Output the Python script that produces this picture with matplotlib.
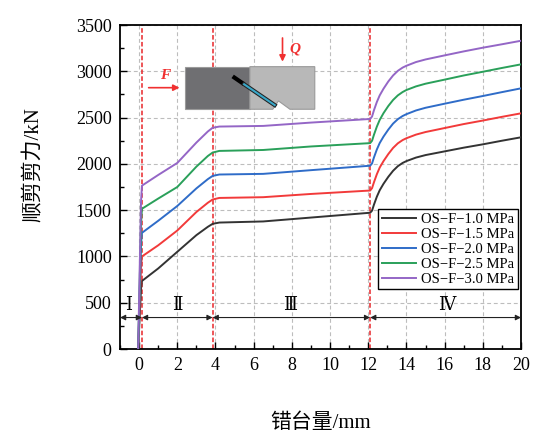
import matplotlib
matplotlib.use('Agg')
from matplotlib import pyplot as plt
from matplotlib.patches import Rectangle, Polygon
from matplotlib.ticker import MultipleLocator

plt.rcParams['font.family'] = ['Liberation Serif', 'DejaVu Serif', 'Noto Sans CJK SC']
plt.rcParams['axes.unicode_minus'] = False

# shared x positions (mm) for every curve
x_mm = [-0.05, 0.1, 0.15, 1, 2, 3, 3.6, 3.85, 4.2, 6.5, 9, 12.1,
        12.2, 12.3, 12.45, 12.6, 12.8, 13.05, 13.3, 13.55, 13.8, 14.0,
        14.5, 15, 16, 17, 18, 19, 20]

f_10 = [0, 650, 735, 870, 1050, 1230, 1320, 1352, 1366, 1378, 1420, 1472,
        1495, 1560, 1645, 1715, 1785, 1860, 1925, 1975, 2010, 2030,
        2068, 2095, 2135, 2175, 2211, 2250, 2287]
f_15 = [0, 900, 1000, 1120, 1280, 1480, 1580, 1615, 1632, 1640, 1675, 1712,
        1738, 1802, 1888, 1960, 2030, 2106, 2172, 2222, 2257, 2277,
        2316, 2344, 2387, 2430, 2468, 2508, 2546]
f_20 = [0, 1130, 1255, 1385, 1545, 1735, 1835, 1870, 1885, 1892, 1932, 1980,
        2005, 2070, 2155, 2225, 2295, 2370, 2435, 2483, 2517, 2537,
        2577, 2606, 2650, 2693, 2733, 2775, 2816]
f_25 = [0, 1360, 1515, 1625, 1750, 1970, 2085, 2122, 2140, 2150, 2188, 2224,
        2250, 2315, 2402, 2475, 2548, 2625, 2690, 2740, 2776, 2798,
        2837, 2866, 2910, 2955, 2995, 3036, 3075]
f_30 = [0, 1590, 1765, 1880, 2010, 2230, 2350, 2390, 2403, 2410, 2446, 2485,
        2512, 2580, 2668, 2740, 2812, 2890, 2955, 3005, 3040, 3060,
        3100, 3128, 3172, 3215, 3255, 3292, 3330]

labels = ['OS−F−1.0 MPa', 'OS−F−1.5 MPa', 'OS−F−2.0 MPa',
          'OS−F−2.5 MPa', 'OS−F−3.0 MPa']
colors = ['#333333', '#f23a3a', '#2f6cc8', '#2aa05a', '#9466c6']

stage_bounds = [-1, 0.15, 3.85, 12.1, 20]
stage_names = ['Ⅰ', 'Ⅱ', 'Ⅲ', 'Ⅳ']
stage_label_x = [-0.55, 2.0, 7.9, 16.1]

fig = plt.figure(figsize=(5.43, 4.42), dpi=100)
ax = fig.add_axes([0.221, 0.2104, 0.7385, 0.733])

for y, lab, c in zip([f_10, f_15, f_20, f_25, f_30], labels, colors):
    ax.plot(x_mm, y, color=c, lw=1.4, label=lab, zorder=3)

for b in stage_bounds[1:-1]:
    ax.axvline(b, color='#e8262a', lw=1.1, ls=(0, (3, 1.5)), zorder=2)

# stage arrows and names
for i in range(4):
    ax.annotate('', xy=(stage_bounds[i], 340), xytext=(stage_bounds[i + 1], 340),
                arrowprops=dict(arrowstyle='<|-|>', color='#222222', lw=0.8,
                                shrinkA=0, shrinkB=0, mutation_scale=8), zorder=4)
    ax.text(stage_label_x[i], 470, stage_names[i], ha='center', va='center',
            fontsize=13, family=['DejaVu Serif', 'Noto Sans CJK SC'], zorder=4)

# sketch of the specimen
ax.add_patch(Rectangle((2.42, 2590), 3.38, 460, facecolor='#6f6f72',
                       edgecolor='#9a9a9a', lw=0.8, zorder=5))
ax.add_patch(Polygon([(5.8, 2590), (5.8, 3050), (9.2, 3050), (9.2, 2590),
                      (7.9, 2590), (7.3, 2680), (7.0, 2590)],
                     closed=True, facecolor='#b8b8b8', edgecolor='#9a9a9a',
                     lw=0.8, zorder=5))
ax.plot([4.9, 5.5], [2945, 2860], color='black', lw=3, zorder=6,
        solid_capstyle='butt')
ax.plot([5.5, 7.1], [2860, 2635], color='#222222', lw=3, zorder=6)
ax.plot([5.5, 7.1], [2860, 2635], color='#3aa7c8', lw=1.5, zorder=7)
ax.annotate('', xy=(2.12, 2823), xytext=(0.5, 2823),
            arrowprops=dict(arrowstyle='-|>', color='#f03030', lw=1.2,
                            mutation_scale=9, shrinkA=0, shrinkB=0), zorder=6)
ax.text(1.34, 2960, 'F', color='#f03030', fontsize=11, style='italic',
        fontweight='bold', ha='center', va='center', zorder=6)
ax.annotate('', xy=(7.51, 3104), xytext=(7.51, 3360),
            arrowprops=dict(arrowstyle='-|>', color='#f03030', lw=1.2,
                            mutation_scale=9, shrinkA=0, shrinkB=0), zorder=6)
ax.text(8.15, 3240, 'Q', color='#f03030', fontsize=11, style='italic',
        fontweight='bold', ha='center', va='center', zorder=6)

ax.set_xlim(-1, 20)
ax.set_ylim(0, 3500)
ax.xaxis.set_major_locator(MultipleLocator(2))
ax.xaxis.set_minor_locator(MultipleLocator(1))
ax.yaxis.set_major_locator(MultipleLocator(500))
ax.yaxis.set_minor_locator(MultipleLocator(250))
ax.tick_params(which='both', direction='in', labelsize=13, width=1.0)
ax.tick_params(which='major', length=5, pad=6)
ax.tick_params(which='minor', length=3)
ax.grid(True, which='major', color='#bdbdbd', ls=(0, (3.5, 2.5)), lw=0.8)
for s in ax.spines.values():
    s.set_linewidth(1.3)

ax.set_xlabel('错台量/mm', fontsize=15,
              family=['Liberation Serif', 'Noto Sans CJK SC'])
ax.xaxis.set_label_coords(0.5, -0.198)
ax.set_ylabel('顺剪剪力/kN', fontsize=15,
              family=['Liberation Serif', 'Noto Sans CJK SC'])
ax.yaxis.set_label_coords(-0.19, 0.57)

leg = ax.legend(loc='upper right', bbox_to_anchor=(0.993, 0.432), fontsize=10.5,
                frameon=True, fancybox=False, edgecolor='black', framealpha=1,
                handlelength=2.3, labelspacing=0.12, borderpad=0.25,
                handletextpad=0.4, borderaxespad=0)
leg.get_frame().set_linewidth(1.0)
leg.set_zorder(8)

fig.savefig('out.png', dpi=100)
